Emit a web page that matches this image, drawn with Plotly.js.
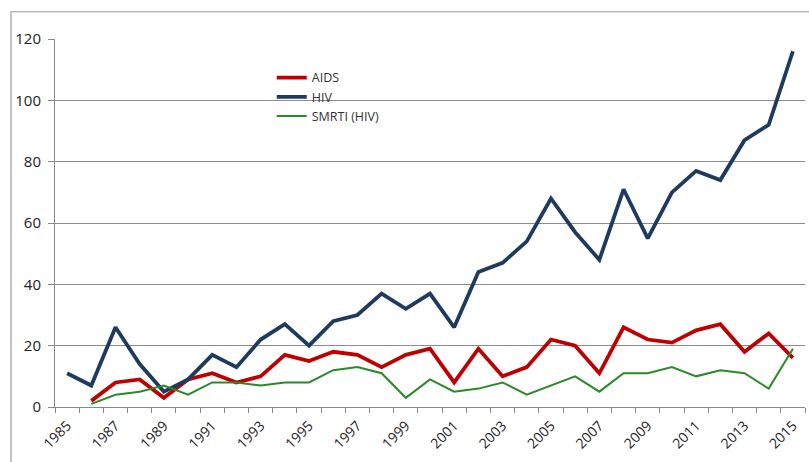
<!DOCTYPE html>
<html>
<head>
<meta charset="utf-8">
<script src="https://cdn.plot.ly/plotly-3.0.1.min.js"></script>
<style>html,body{margin:0;padding:0;background:#fff;}#chart{width:809px;height:462px;}</style>
</head>
<body>
<div id="chart"></div>
<script>
const years = [1985,1986,1987,1988,1989,1990,1991,1992,1993,1994,1995,1996,1997,1998,1999,2000,2001,2002,2003,2004,2005,2006,2007,2008,2009,2010,2011,2012,2013,2014,2015];
const aids  = [null,2,8,9,3,9,11,8,10,17,15,18,17,13,17,19,8,19,10,13,22,20,11,26,22,21,25,27,18,24,16];
const hiv   = [11,7,26,14,5,9,17,13,22,27,20,28,30,37,32,37,26,44,47,54,68,57,48,71,55,70,77,74,87,92,116];
const smrti = [null,1,4,5,7,4,8,8,7,8,8,12,13,11,3,9,5,6,8,4,7,10,5,11,11,13,10,12,11,6,19];
const labelYears = years.filter((y, i) => i % 2 === 0);
const seriesNames = ['AIDS', 'HIV', 'SMRTI (HIV)'];

const traces = [
  {x: years, y: aids, name: seriesNames[0], mode: 'lines', line: {color: '#C00000', width: 3.8}},
  {x: years, y: hiv, name: seriesNames[1], mode: 'lines', line: {color: '#1F3A5F', width: 3.8}},
  {x: years, y: smrti, name: seriesNames[2], mode: 'lines', line: {color: '#2A8A2A', width: 2}}
];

const layout = {
  width: 809, height: 462,
  margin: {l: 55, r: 4, t: 39, b: 55},
  paper_bgcolor: '#fff', plot_bgcolor: '#fff',
  font: {family: 'Open Sans, Liberation Sans, sans-serif', size: 13, color: '#222'},
  showlegend: true,
  legend: {x: 0.289, y: 0.935, xanchor: 'left', yanchor: 'top', bgcolor: 'rgba(0,0,0,0)',
           font: {size: 12.5, color: '#333'}, tracegroupgap: 0, itemwidth: 30},
  xaxis: {
    type: 'linear', range: [1984.5, 2015.5],
    tickvals: labelYears, ticktext: labelYears.map(String),
    tickangle: -45, ticks: '', showgrid: false, zeroline: false,
    showline: true, linecolor: '#888', linewidth: 1,
    tickfont: {size: 14, color: '#222'}, ticklabelstandoff: 4,
    minor: {tick0: 1984.5, dtick: 1, ticks: 'outside', ticklen: 5, tickcolor: '#888', showgrid: false}
  },
  yaxis: {
    range: [0, 120], tickvals: [0,20,40,60,80,100,120],
    ticks: 'outside', ticklen: 6, tickcolor: '#888',
    showgrid: true, gridcolor: '#8c8c8c', gridwidth: 1, zeroline: false,
    showline: true, linecolor: '#888', linewidth: 1,
    tickfont: {size: 15, color: '#222'}, ticklabelstandoff: 4
  },
  shapes: [{
    type: 'rect', xref: 'paper', yref: 'paper',
    x0: -0.0587, x1: 1.05, y0: -0.3, y1: 1.074,
    line: {color: '#999', width: 1.2}, fillcolor: 'rgba(0,0,0,0)', layer: 'below'
  }]
};

Plotly.newPlot('chart', traces, layout, {displayModeBar: false, staticPlot: true});
</script>
</body>
</html>
